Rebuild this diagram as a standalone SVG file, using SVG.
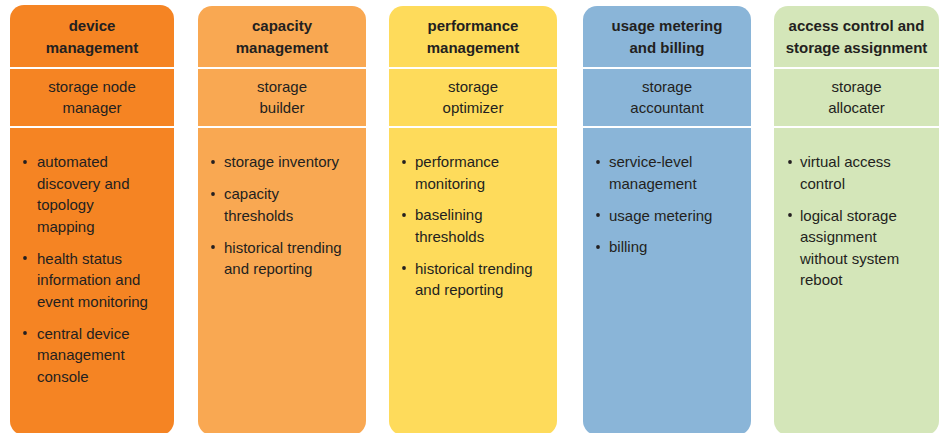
<svg xmlns="http://www.w3.org/2000/svg" width="943" height="433" viewBox="0 0 943 433">
<style>
.h{font-family:"Liberation Sans",Arial,sans-serif;font-size:15px;font-weight:bold;fill:#231f20;text-anchor:middle}
.s{font-family:"Liberation Sans",Arial,sans-serif;font-size:15px;fill:#231f20;text-anchor:middle}
.b{font-family:"Liberation Sans",Arial,sans-serif;font-size:15px;fill:#231f20}
.sep{fill:#ffffff}
.dot{fill:#231f20}
</style>
<rect width="943" height="433" fill="#ffffff"/>
<g id="col-device">
<rect x="10" y="5" width="164" height="430" rx="14" fill="#f58423"/>
<rect class="sep" x="10" y="67" width="164" height="2"/>
<rect class="sep" x="10" y="126" width="164" height="2"/>
<text class="h" x="92" y="31">device</text>
<text class="h" x="92" y="53">management</text>
<text class="s" x="92" y="92">storage node</text>
<text class="s" x="92" y="113">manager</text>
<circle class="dot" cx="25" cy="162" r="1.9"/>
<circle class="dot" cx="25" cy="258" r="1.9"/>
<circle class="dot" cx="25" cy="333" r="1.9"/>
<text class="b" x="37" y="167">automated</text>
<text class="b" x="37" y="188.5">discovery and</text>
<text class="b" x="37" y="210">topology</text>
<text class="b" x="37" y="231.5">mapping</text>
<text class="b" x="37" y="263.5">health status</text>
<text class="b" x="37" y="285">information and</text>
<text class="b" x="37" y="306.5">event monitoring</text>
<text class="b" x="37" y="338.5">central device</text>
<text class="b" x="37" y="360">management</text>
<text class="b" x="37" y="381.5">console</text>
</g>
<g id="col-capacity">
<rect x="198" y="6" width="168" height="429" rx="14" fill="#f9a852"/>
<rect class="sep" x="198" y="67" width="168" height="2"/>
<rect class="sep" x="198" y="126" width="168" height="2"/>
<text class="h" x="282" y="31">capacity</text>
<text class="h" x="282" y="53">management</text>
<text class="s" x="282" y="92">storage</text>
<text class="s" x="282" y="113">builder</text>
<circle class="dot" cx="213" cy="162" r="1.9"/>
<circle class="dot" cx="213" cy="194" r="1.9"/>
<circle class="dot" cx="213" cy="247" r="1.9"/>
<text class="b" x="224" y="167">storage inventory</text>
<text class="b" x="224" y="199">capacity</text>
<text class="b" x="224" y="220.5">thresholds</text>
<text class="b" x="224" y="252.5">historical trending</text>
<text class="b" x="224" y="274">and reporting</text>
</g>
<g id="col-performance">
<rect x="389" y="6" width="168" height="429" rx="14" fill="#fedb5b"/>
<rect class="sep" x="389" y="67" width="168" height="2"/>
<rect class="sep" x="389" y="126" width="168" height="2"/>
<text class="h" x="473" y="31">performance</text>
<text class="h" x="473" y="53">management</text>
<text class="s" x="473" y="92">storage</text>
<text class="s" x="473" y="113">optimizer</text>
<circle class="dot" cx="404" cy="162" r="1.9"/>
<circle class="dot" cx="404" cy="215" r="1.9"/>
<circle class="dot" cx="404" cy="268" r="1.9"/>
<text class="b" x="415" y="167">performance</text>
<text class="b" x="415" y="188.5">monitoring</text>
<text class="b" x="415" y="220">baselining</text>
<text class="b" x="415" y="241.5">thresholds</text>
<text class="b" x="415" y="273.5">historical trending</text>
<text class="b" x="415" y="295">and reporting</text>
</g>
<g id="col-usage">
<rect x="583" y="6" width="168" height="429" rx="14" fill="#8ab5d8"/>
<rect class="sep" x="583" y="67" width="168" height="2"/>
<rect class="sep" x="583" y="126" width="168" height="2"/>
<text class="h" x="667" y="31">usage metering</text>
<text class="h" x="667" y="53">and billing</text>
<text class="s" x="667" y="92">storage</text>
<text class="s" x="667" y="113">accountant</text>
<circle class="dot" cx="598" cy="162" r="1.9"/>
<circle class="dot" cx="598" cy="215" r="1.9"/>
<circle class="dot" cx="598" cy="247" r="1.9"/>
<text class="b" x="609" y="167">service-level</text>
<text class="b" x="609" y="188.5">management</text>
<text class="b" x="609" y="220.5">usage metering</text>
<text class="b" x="609" y="252">billing</text>
</g>
<g id="col-access">
<rect x="774" y="6" width="165" height="429" rx="14" fill="#d4e6b9"/>
<rect class="sep" x="774" y="67" width="165" height="2"/>
<rect class="sep" x="774" y="126" width="165" height="2"/>
<text class="h" x="856.5" y="31">access control and</text>
<text class="h" x="856.5" y="53">storage assignment</text>
<text class="s" x="856.5" y="92">storage</text>
<text class="s" x="856.5" y="113">allocater</text>
<circle class="dot" cx="790" cy="162" r="1.9"/>
<circle class="dot" cx="790" cy="215" r="1.9"/>
<text class="b" x="800" y="167">virtual access</text>
<text class="b" x="800" y="188.5">control</text>
<text class="b" x="800" y="220.5">logical storage</text>
<text class="b" x="800" y="242">assignment</text>
<text class="b" x="800" y="263.5">without system</text>
<text class="b" x="800" y="285">reboot</text>
</g>
<g id="connectors"/>
</svg>
